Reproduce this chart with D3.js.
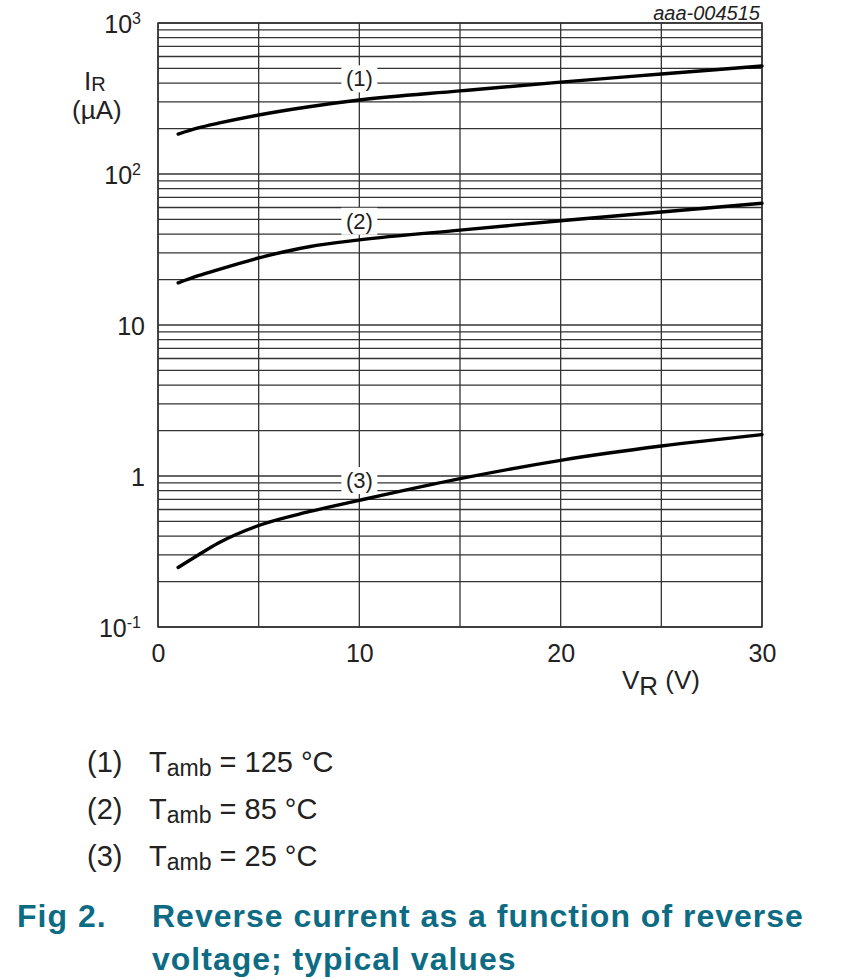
<!doctype html>
<html>
<head>
<meta charset="utf-8">
<title>Reverse current as a function of reverse voltage</title>
<script src="https://d3js.org/d3.v7.min.js"></script>
<style type="text/css">
	body { margin: 0; background: #fff; }
	text { font-family: "Liberation Sans", Arial, sans-serif; fill: #222; }
	.grid line { stroke: #333; stroke-width: 1.3; }
	.frame { fill: none; stroke: #333; stroke-width: 1.5; }
	.curve { fill: none; stroke: #000; stroke-width: 3.4; stroke-linecap: round; }
	.tick text { font-size: 25px; }
	.axisTitle { font-size: 26px; }
	.curveLabel { font-size: 22px; }
	.legend { font-size: 29px; }
	.docId { font-size: 20px; font-style: italic; }
	.caption { font-size: 32px; font-weight: bold; letter-spacing: 1px; fill: #0e6b84; }
</style>
</head>
<body>
<script>
	var w = 852;
	var h = 979;

	// reverse voltage (V)
	var vR = [1, 2, 3, 5, 7.5, 10, 15, 20, 25, 30];
	// reverse current (uA)
	var iR125 = [184, 202, 217, 246, 279, 309, 355, 406, 459, 519];
	var iR85 = [19.0, 21.2, 23.3, 27.8, 33.0, 36.6, 42.5, 49, 56, 64];
	var iR25 = [0.248, 0.30, 0.36, 0.47, 0.58, 0.69, 0.96, 1.27, 1.58, 1.88];

	var curveNames = ["(1)", "(2)", "(3)"];
	var curveLabelV = [10, 10, 10];
	var curveLabelI = [430, 49, 0.94];

	var legendTemp = ["125", "85", "25"];

	var xTickVals = [0, 10, 20, 30];
	var xGridVals = [0, 5, 10, 15, 20, 25, 30];
	var yTickVals = [0.1, 1, 10, 100, 1000];
	var yTickBase = ["10", "1", "10", "10", "10"];
	var yTickSup = ["-1", "", "", "2", "3"];

	var series = [iR125, iR85, iR25];

	var svg = d3.select("body")
				.append("svg")
				.attr("width", w)
				.attr("height", h);

	var xScale = d3.scaleLinear().domain([0, 30]).range([158, 762]);
	var yScale = d3.scaleLog().domain([0.1, 1000]).range([627, 23]);

	// grid
	var grid = svg.append("g").attr("class", "grid");
	grid.selectAll("line.h")
		.data(yScale.ticks())
		.enter()
		.append("line")
		.attr("class", "h")
		.attr("x1", xScale(0))
		.attr("x2", xScale(30))
		.attr("y1", function(d) { return yScale(d); })
		.attr("y2", function(d) { return yScale(d); });
	grid.selectAll("line.v")
		.data(xGridVals)
		.enter()
		.append("line")
		.attr("class", "v")
		.attr("x1", function(d) { return xScale(d); })
		.attr("x2", function(d) { return xScale(d); })
		.attr("y1", yScale(1000))
		.attr("y2", yScale(0.1));

	svg.append("rect")
		.attr("class", "frame")
		.attr("x", xScale(0))
		.attr("y", yScale(1000))
		.attr("width", xScale(30) - xScale(0))
		.attr("height", yScale(0.1) - yScale(1000));

	// curves
	var line = d3.line()
				.x(function(d, i) { return xScale(vR[i]); })
				.y(function(d) { return yScale(d); })
				.curve(d3.curveMonotoneX);

	svg.selectAll("path.curve")
		.data(series)
		.enter()
		.append("path")
		.attr("class", "curve")
		.attr("d", line);

	// curve labels with white knock-out box
	var labels = svg.selectAll("g.curveLabel")
		.data(curveNames)
		.enter()
		.append("g")
		.attr("transform", function(d, i) {
			return "translate(" + xScale(curveLabelV[i]) + "," + yScale(curveLabelI[i]) + ")";
		});
	labels.append("rect")
		.attr("x", -18)
		.attr("y", -13)
		.attr("width", 36)
		.attr("height", 27)
		.attr("fill", "#fff");
	labels.append("text")
		.attr("class", "curveLabel")
		.attr("text-anchor", "middle")
		.attr("y", 8)
		.text(function(d) { return d; });

	// x axis
	var xAxis = d3.axisBottom(xScale).tickValues(xTickVals).tickSize(0).tickPadding(0);
	var gx = svg.append("g")
		.attr("transform", "translate(0," + yScale(0.1) + ")")
		.call(xAxis);
	gx.select(".domain").remove();
	gx.selectAll("text").attr("dy", null).attr("y", 35).attr("fill", "#222");

	// y axis
	var yAxis = d3.axisLeft(yScale).tickValues(yTickVals).tickSize(0).tickFormat("");
	var gy = svg.append("g")
		.attr("transform", "translate(145,0)")
		.call(yAxis);
	gy.select(".domain").remove();
	gy.selectAll(".tick text")
		.attr("dy", 9)
		.attr("fill", "#222")
		.attr("x", function(d, i) { return yTickSup[i] ? -4 : 0; })
		.each(function(d, i) {
			var t = d3.select(this);
			t.append("tspan").text(yTickBase[i]);
			if (yTickSup[i]) {
				t.append("tspan")
					.attr("dy", -9)
					.style("font-size", "16px")
					.text(yTickSup[i]);
			}
		});

	// axis titles
	var yTitle = svg.append("text").attr("class", "axisTitle").attr("x", 84).attr("y", 90);
	yTitle.append("tspan").text("I");
	yTitle.append("tspan").attr("dy", 1).style("font-size", "20px").text("R");
	svg.append("text").attr("class", "axisTitle").attr("x", 72).attr("y", 119).text("(µA)");

	var xTitle = svg.append("text").attr("class", "axisTitle").attr("x", 622).attr("y", 689);
	xTitle.append("tspan").text("V");
	xTitle.append("tspan").attr("dy", 6).text("R");
	xTitle.append("tspan").attr("dy", -6).text(" (V)");

	svg.append("text")
		.attr("class", "docId")
		.attr("x", 760)
		.attr("y", 20)
		.attr("text-anchor", "end")
		.text("aaa-004515");

	// legend
	var legend = svg.selectAll("g.legend")
		.data(legendTemp)
		.enter()
		.append("g")
		.attr("transform", function(d, i) { return "translate(0," + (772 + i * 47) + ")"; });
	legend.append("text")
		.attr("class", "legend")
		.attr("x", 87)
		.text(function(d, i) { return curveNames[i]; });
	var lt = legend.append("text")
		.attr("class", "legend")
		.attr("x", 149);
	lt.append("tspan").text("T");
	lt.append("tspan").attr("dy", 4).style("font-size", "23px").text("amb");
	lt.append("tspan").attr("dy", -4).text(function(d) { return " = " + d + " °C"; });

	// caption
	svg.append("text").attr("class", "caption").attr("x", 17).attr("y", 927).text("Fig 2.");
	svg.append("text").attr("class", "caption").attr("x", 152).attr("y", 927)
		.text("Reverse current as a function of reverse");
	svg.append("text").attr("class", "caption").attr("x", 152).attr("y", 970)
		.text("voltage; typical values");
</script>
</body>
</html>
